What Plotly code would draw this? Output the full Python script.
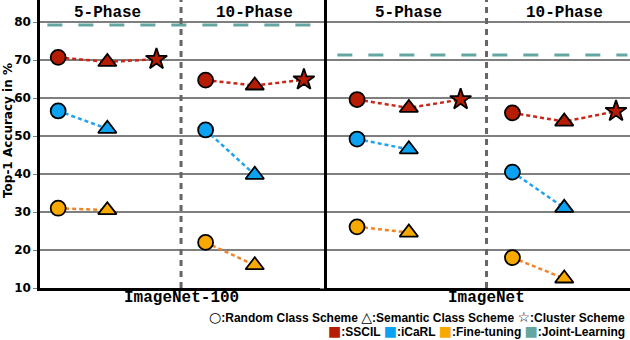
import plotly.graph_objects as go
from plotly.subplots import make_subplots

# slot positions inside each panel (5-phase: 1..3, 10-phase: 4..6)
slots_5 = [1, 2, 3]
slots_10 = [4, 5, 6]

# ImageNet-100
in100_sscil_5 = [70.7, 69.5, 70.2]
in100_icarl_5 = [56.6, 51.9]
in100_ft_5 = [31.0, 30.5]
in100_sscil_10 = [64.7, 63.3, 64.8]
in100_icarl_10 = [51.6, 39.8]
in100_ft_10 = [22.0, 16.0]
in100_joint = 79.2

# ImageNet
in_sscil_5 = [59.6, 57.4, 59.6]
in_icarl_5 = [49.2, 46.5]
in_ft_5 = [26.1, 24.6]
in_sscil_10 = [56.1, 53.8, 56.5]
in_icarl_10 = [40.5, 31.1]
in_ft_10 = [18.0, 12.5]
in_joint = 71.3

symbols = ["circle", "triangle-up", "star"]
c_sscil, c_icarl, c_ft, c_joint = "#B51C02", "#0CA2F2", "#F7A900", "#63A6A2"
l_sscil, l_icarl, l_ft = "#C8281A", "#1FA3F0", "#F28224"

fig = make_subplots(rows=1, cols=2, shared_yaxes=True, horizontal_spacing=0,
                    column_widths=[287, 303])


def add_series(col, xs, ys, fill, line_col):
    n = len(ys)
    fig.add_trace(go.Scatter(
        x=xs[:n], y=ys, mode="lines+markers",
        line=dict(color=line_col, width=2.5, dash="4px,3px"),
        marker=dict(symbol=symbols[:n], size=[15, 16, 16][:n], color=fill, opacity=1,
                    line=dict(color="black", width=1.8)),
        showlegend=False, hoverinfo="skip"), row=1, col=col)


for col, data in [(1, [in100_sscil_5, in100_icarl_5, in100_ft_5,
                       in100_sscil_10, in100_icarl_10, in100_ft_10]),
                  (2, [in_sscil_5, in_icarl_5, in_ft_5,
                       in_sscil_10, in_icarl_10, in_ft_10])]:
    for i, (fill, lc) in enumerate([(c_sscil, l_sscil), (c_icarl, l_icarl), (c_ft, l_ft)]):
        add_series(col, slots_5, data[i], fill, lc)
        add_series(col, slots_10, data[i + 3], fill, lc)

# joint learning lines
fig.add_trace(go.Scatter(x=[0.78, 6.2], y=[in100_joint] * 2, mode="lines",
                         line=dict(color=c_joint, width=3, dash="15px,16px"),
                         showlegend=False, hoverinfo="skip"), row=1, col=1)
fig.add_trace(go.Scatter(x=[0.62, 6.22], y=[in_joint] * 2, mode="lines",
                         line=dict(color=c_joint, width=3, dash="15px,16px"),
                         showlegend=False, hoverinfo="skip"), row=1, col=2)

for xref in ["x", "x2"]:
    fig.add_shape(type="line", xref=xref, yref="paper", x0=3.5, x1=3.5, y0=0, y1=1,
                  line=dict(color="#666666", width=3, dash="6px,5px"))

fig.update_xaxes(showgrid=False, zeroline=False, showticklabels=False,
                 showline=True, linecolor="black", linewidth=2.5)
fig.update_xaxes(range=[0.63, 6.47], row=1, col=1)
fig.update_xaxes(range=[0.42, 6.27], row=1, col=2)
fig.update_yaxes(range=[10, 85.8], tickvals=[10, 20, 30, 40, 50, 60, 70, 80],
                 showgrid=True, gridcolor="#7f7f7f", gridwidth=1.5, zeroline=False,
                 showline=True, linecolor="black", linewidth=2.5,
                 ticks="outside", ticklen=4, tickcolor="#7f7f7f")
fig.update_yaxes(tickfont=dict(family="DejaVu Sans", size=12, color="black", weight="bold"),
                 row=1, col=1)

mono = dict(family="Liberation Mono", size=16, color="black", weight="bold")
for xref in ["x", "x2"]:
    fig.add_annotation(x=2, y=1 - 13 / 288, xref=xref, yref="paper",
                       yanchor="middle", text="5-Phase", showarrow=False, font=mono)
    fig.add_annotation(x=5, y=1 - 13 / 288, xref=xref, yref="paper",
                       yanchor="middle", text="10-Phase", showarrow=False, font=mono)

fig.add_annotation(x=3.5, y=-10 / 288, xref="x", yref="paper", yanchor="middle",
                   text="ImageNet-100", showarrow=False, font=mono)
fig.add_annotation(x=3.5, y=-10 / 288, xref="x2", yref="paper", yanchor="middle",
                   text="ImageNet", showarrow=False, font=mono)


def sym(ch, color="black", size=14):
    return (f"<span style='font-family:DejaVu Sans;font-size:{size}px;"
            f"color:{color}'>{ch}</span>")


lf = dict(family="Liberation Sans", size=12, color="black", weight="bold")
fig.add_annotation(x=(627 - 40) / 590, y=-29 / 288, xref="paper", yref="paper",
                   xanchor="right", yanchor="middle", showarrow=False, font=lf,
                   text=f"{sym('○')}:Random Class Scheme&nbsp;{sym('△')}:Semantic Class Scheme&nbsp;"
                        f"{sym('☆')}:Cluster Scheme")
fig.add_annotation(x=(627 - 40) / 590, y=-43 / 288, xref="paper", yref="paper",
                   xanchor="right", yanchor="middle", showarrow=False, font=lf,
                   text=f"{sym('■', c_sscil)}:SSCIL {sym('■', c_icarl)}:iCaRL "
                        f"{sym('■', c_ft)}:Fine-tuning {sym('■', c_joint)}:Joint-Learning")
fig.add_annotation(x=-32 / 590, y=0.545, xref="paper", yref="paper", textangle=-90,
                   xanchor="center", yanchor="middle",
                   showarrow=False, text="Top-1 Accuracy in %",
                   font=dict(family="DejaVu Sans", size=12, color="black", weight="bold"))

fig.update_layout(width=630, height=340, margin=dict(l=40, r=0, t=0, b=52),
                  plot_bgcolor="white", paper_bgcolor="white", hovermode=False)
fig.write_html("out.html", config={"displayModeBar": False},
               post_script="document.body.style.margin='0';")
